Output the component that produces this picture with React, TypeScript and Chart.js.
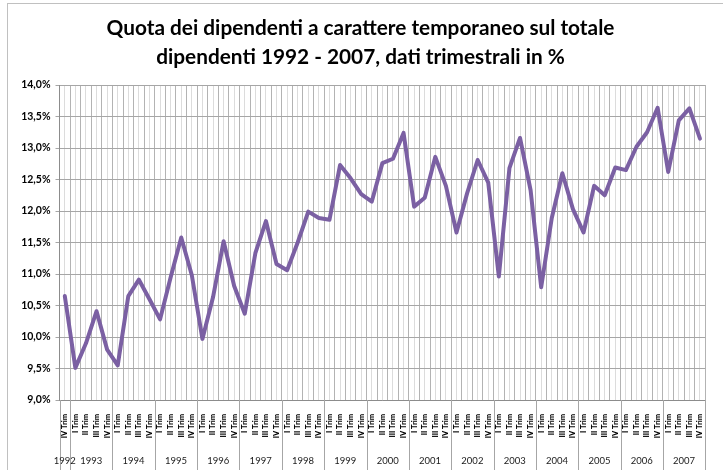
import React, { useEffect, useRef } from "react";
import { Chart, registerables } from "chart.js";

Chart.register(...registerables);

const TITLE_LINES = [
  "Quota dei dipendenti a carattere temporaneo sul totale",
  "dipendenti 1992 - 2007, dati trimestrali in %",
];

const YEARS = [
  "1992", "1993", "1994", "1995", "1996", "1997", "1998", "1999",
  "2000", "2001", "2002", "2003", "2004", "2005", "2006", "2007",
];

// Quarters shown for each year (1992 only has the IV quarter)
const YEAR_QUARTERS = [
  ["IV Trim"],
  ["I Trim", "II Trim", "III Trim", "IV Trim"],
  ["I Trim", "II Trim", "III Trim", "IV Trim"],
  ["I Trim", "II Trim", "III Trim", "IV Trim"],
  ["I Trim", "II Trim", "III Trim", "IV Trim"],
  ["I Trim", "II Trim", "III Trim", "IV Trim"],
  ["I Trim", "II Trim", "III Trim", "IV Trim"],
  ["I Trim", "II Trim", "III Trim", "IV Trim"],
  ["I Trim", "II Trim", "III Trim", "IV Trim"],
  ["I Trim", "II Trim", "III Trim", "IV Trim"],
  ["I Trim", "II Trim", "III Trim", "IV Trim"],
  ["I Trim", "II Trim", "III Trim", "IV Trim"],
  ["I Trim", "II Trim", "III Trim", "IV Trim"],
  ["I Trim", "II Trim", "III Trim", "IV Trim"],
  ["I Trim", "II Trim", "III Trim", "IV Trim"],
  ["I Trim", "II Trim", "III Trim", "IV Trim"],
];

// Share of temporary employees (%), quarterly
const SHARE_1992 = [10.65];
const SHARE_1993_1996 = [
  9.51, 9.9, 10.41, 9.8,
  9.55, 10.65, 10.91, 10.6,
  10.28, 10.95, 11.58, 10.98,
  9.97, 10.63, 11.52, 10.81,
];
const SHARE_1997_2000 = [
  10.37, 11.33, 11.84, 11.16,
  11.06, 11.5, 11.99, 11.89,
  11.86, 12.73, 12.52, 12.27,
  12.15, 12.76, 12.83, 13.24,
];
const SHARE_2001_2004 = [
  12.07, 12.21, 12.86, 12.4,
  11.66, 12.28, 12.81, 12.45,
  10.96, 12.68, 13.16, 12.33,
  10.79, 11.89, 12.6, 12.03,
];
const SHARE_2005_2007 = [
  11.66, 12.4, 12.25, 12.69,
  12.65, 13.02, 13.25, 13.64,
  12.62, 13.44, 13.63, 13.15,
];

const Y_MIN = 9;
const Y_MAX = 14;
const Y_STEP = 0.5;

const LABELS: string[] = YEAR_QUARTERS.flat();
const VALUES: number[] = [
  ...SHARE_1992,
  ...SHARE_1993_1996,
  ...SHARE_1997_2000,
  ...SHARE_2001_2004,
  ...SHARE_2005_2007,
];

const yearAxisPlugin = {
  id: "yearAxis",
  afterDraw(chart: any) {
    const xs = chart.scales.x;
    const area = chart.chartArea;
    const ctx = chart.ctx;
    const bottom = chart.height;
    ctx.save();
    ctx.strokeStyle = "#a6a6a6";
    ctx.lineWidth = 1;
    ctx.fillStyle = "#1a1a1a";
    ctx.font = "9.5px Lato, sans-serif";
    ctx.textAlign = "center";
    ctx.textBaseline = "middle";
    const drawSep = (x: number) => {
      const px = Math.round(x) + 0.5;
      ctx.beginPath();
      ctx.moveTo(px, area.bottom);
      ctx.lineTo(px, bottom);
      ctx.stroke();
    };
    drawSep(area.left);
    let start = 0;
    YEARS.forEach((year, k) => {
      const n = YEAR_QUARTERS[k].length;
      const end = start + n - 1;
      const bx =
        end < LABELS.length - 1
          ? (xs.getPixelForValue(end) + xs.getPixelForValue(end + 1)) / 2
          : area.right;
      drawSep(bx);
      const cx = (xs.getPixelForValue(start) + xs.getPixelForValue(end)) / 2;
      ctx.fillText(year, cx, area.bottom + 61);
      start += n;
    });
    ctx.restore();
  },
};

export default function App() {
  const ref = useRef<HTMLCanvasElement | null>(null);

  useEffect(() => {
    if (!ref.current) return;
    const chart = new Chart(ref.current, {
      type: "line",
      data: {
        labels: LABELS,
        datasets: [
          {
            data: VALUES,
            borderColor: "#7b60a3",
            backgroundColor: "#7b60a3",
            borderWidth: 4,
            pointRadius: 0,
            tension: 0,
            borderJoinStyle: "round",
            borderCapStyle: "round",
            xAxisID: "x",
          },
        ],
      },
      options: {
        responsive: false,
        animation: false,
        devicePixelRatio: 1,
        layout: { padding: { left: 0, right: 2, top: 0, bottom: 0 } },
        plugins: {
          legend: { display: false },
          tooltip: { enabled: false },
          title: {
            display: true,
            text: TITLE_LINES,
            color: "#000000",
            font: { family: "Lato, sans-serif", size: 20.8, weight: "bold", lineHeight: 1.4 },
            padding: { top: 14, bottom: 12.8 },
          },
        },
        scales: {
          x: {
            type: "category",
            offset: true,
            position: "bottom",
            grid: {
              offset: true,
              color: "#b3b3b3",
              drawTicks: false,
            },
            border: { display: true, color: "#8c8c8c" },
            ticks: {
              autoSkip: false,
              minRotation: 90,
              maxRotation: 90,
              padding: 14,
              color: "#000000",
              font: { family: "Lato, sans-serif", size: 7.5, weight: "900" },
            },
            afterFit(scale: any) {
              scale.height = 70;
            },
          },
          x2: {
            type: "category",
            offset: true,
            position: "bottom",
            grid: {
              offset: false,
              color: "#dcdcdc",
              drawTicks: false,
            },
            border: { display: false },
            ticks: { display: false },
            afterFit(scale: any) {
              scale.height = 0;
            },
          },
          y: {
            min: Y_MIN,
            max: Y_MAX,
            grid: {
              color: "#a6a6a6",
              drawTicks: true,
              tickLength: 4,
            },
            border: { display: true, color: "#8c8c8c" },
            ticks: {
              stepSize: Y_STEP,
              padding: 5,
              color: "#000000",
              font: { family: "Lato, sans-serif", size: 10.5, weight: "bold" },
              callback: (v: any) => Number(v).toFixed(1).replace(".", ",") + "%",
            },
            afterFit(scale: any) {
              scale.width = 59.5;
            },
          },
        },
      },
      plugins: [yearAxisPlugin],
    } as any);
    return () => chart.destroy();
  }, []);

  return (
    <div
      style={{
        position: "fixed",
        left: 0,
        top: 0,
        width: 723,
        height: 470,
        background: "#ffffff",
        overflow: "hidden",
      }}
    >
      <div
        style={{
          position: "absolute",
          left: 7,
          top: 3,
          width: 800,
          height: 600,
          borderLeft: "1px solid #c0c0c0",
          borderTop: "1px solid #c0c0c0",
        }}
      />
      <canvas
        ref={ref}
        width={723}
        height={470}
        style={{ position: "absolute", left: 0, top: 0 }}
      />
    </div>
  );
}
